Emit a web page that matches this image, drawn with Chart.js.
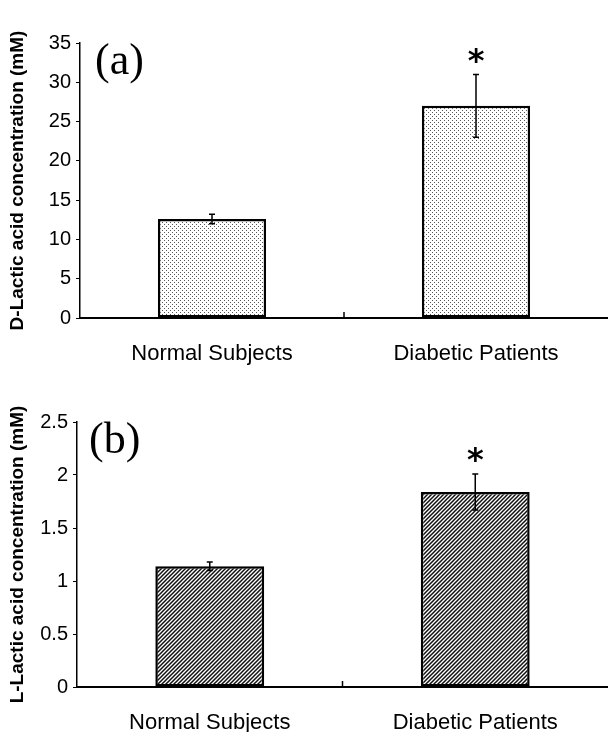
<!DOCTYPE html>
<html lang="en">
<head>
<meta charset="UTF-8" />
<script src="https://cdn.jsdelivr.net/npm/chart.js@4"></script>
<title>Lactic acid</title>
<style>
  body { margin: 0; background: #fff; }
  canvas { display: block; }
</style>
</head>
<body>
<canvas id="chartA" width="608" height="366"></canvas>
<canvas id="chartB" width="608" height="366"></canvas>
<script>
  const categories = ["Normal Subjects", "Diabetic Patients"];
  const dLactic = [12.6, 27.0];
  const dLacticErr = [0.6, 4.0];
  const lLactic = [1.14, 1.84];
  const lLacticErr = [0.04, 0.17];
  const sigMarks = ["", "*"];

  Chart.defaults.font.family = "'Liberation Sans', Arial, sans-serif";
  Chart.defaults.color = "#000";

  function dotPattern() {
    const c = document.createElement("canvas");
    c.width = 4; c.height = 4;
    const g = c.getContext("2d");
    g.fillStyle = "#fff";
    g.fillRect(0, 0, 4, 4);
    g.fillStyle = "#555";
    g.fillRect(0, 0, 1, 1);
    g.fillRect(2, 2, 1, 1);
    return g.createPattern(c, "repeat");
  }

  function hatchPattern() {
    const c = document.createElement("canvas");
    c.width = 4; c.height = 4;
    const g = c.getContext("2d");
    g.fillStyle = "#fff";
    g.fillRect(0, 0, 4, 4);
    g.strokeStyle = "#111";
    g.lineWidth = 1.5;
    g.beginPath();
    g.moveTo(-1, 5); g.lineTo(5, -1);
    g.moveTo(-1, 1); g.lineTo(1, -1);
    g.moveTo(3, 5); g.lineTo(5, 3);
    g.stroke();
    return g.createPattern(c, "repeat");
  }

  // error bars, significance star, panel letter, middle x tick
  const extras = {
    id: "extras",
    afterDatasetsDraw(chart, args, opts) {
      const ctx = chart.ctx;
      const meta = chart.getDatasetMeta(0);
      const y = chart.scales.y;
      const x = chart.scales.x;
      const vals = chart.data.datasets[0].data;
      ctx.save();
      ctx.strokeStyle = "#000";
      ctx.lineWidth = 1.5;
      meta.data.forEach((bar, i) => {
        const top = y.getPixelForValue(vals[i] + opts.errs[i]);
        const bot = y.getPixelForValue(vals[i] - opts.errs[i]);
        ctx.beginPath();
        ctx.moveTo(bar.x, top); ctx.lineTo(bar.x, bot);
        ctx.moveTo(bar.x - 3, top); ctx.lineTo(bar.x + 3, top);
        ctx.moveTo(bar.x - 3, bot); ctx.lineTo(bar.x + 3, bot);
        ctx.stroke();
        if (sigMarks[i]) {
          ctx.font = "bold 32px 'DejaVu Sans'";
          ctx.fillStyle = "#000";
          ctx.textAlign = "center";
          const m = ctx.measureText(sigMarks[i]);
          const cy = top - 19;
          const base = cy + (m.actualBoundingBoxAscent - m.actualBoundingBoxDescent) / 2;
          ctx.fillText(sigMarks[i], bar.x, base);
        }
      });
      // small tick between categories
      const mid = (x.getPixelForValue(0) + x.getPixelForValue(1)) / 2;
      ctx.beginPath();
      ctx.moveTo(mid, chart.chartArea.bottom);
      ctx.lineTo(mid, chart.chartArea.bottom - 6);
      ctx.stroke();
      // panel letter
      ctx.font = "44px 'Liberation Serif', 'Times New Roman', serif";
      ctx.fillStyle = "#000";
      ctx.textAlign = "left";
      ctx.fillText(opts.letter, chart.chartArea.left + opts.letterDx, chart.chartArea.top + 31);
      ctx.restore();
    }
  };

  function makeChart(id, values, errs, fill, yMax, yStep, yTitle, letter, geo) {
    new Chart(document.getElementById(id), {
      type: "bar",
      data: {
        labels: categories,
        datasets: [{
          data: values,
          backgroundColor: fill,
          borderColor: "#000",
          borderWidth: 2.5,
          borderSkipped: false,
          categoryPercentage: 1,
          barPercentage: 0.41
        }]
      },
      options: {
        responsive: false,
        animation: false,
        devicePixelRatio: 1,
        layout: { padding: { top: geo.top, right: 0, left: 0, bottom: 0 } },
        plugins: {
          legend: { display: false },
          tooltip: { enabled: false },
          extras: { errs: errs, letter: letter, letterDx: geo.letterDx }
        },
        scales: {
          x: {
            grid: { display: false },
            border: { display: true, color: "#000", width: 2 },
            ticks: { font: { size: 22 }, padding: 15, color: "#000" },
            afterFit: s => { s.height = geo.xh; }
          },
          y: {
            min: 0,
            max: yMax,
            grid: { drawOnChartArea: false, tickLength: 4, color: "#000" },
            border: { display: true, color: "#000", width: 1.5 },
            ticks: {
              stepSize: yStep,
              font: { size: 20 },
              padding: 5,
              color: "#000",
              callback: v => String(v)
            },
            title: {
              display: true,
              text: yTitle,
              font: { size: 19, weight: "bold" },
              padding: { top: 6, bottom: 0 },
              color: "#000"
            },
            afterFit: s => { s.width = geo.yw; }
          }
        }
      },
      plugins: [extras]
    });
  }

  makeChart("chartA", dLactic, dLacticErr, dotPattern(), 35, 5,
    "D-Lactic acid concentration (mM)", "(a)",
    { top: 43, xh: 48, yw: 80, letterDx: 15 });
  makeChart("chartB", lLactic, lLacticErr, hatchPattern(), 2.5, 0.5,
    "L-Lactic acid concentration (mM)", "(b)",
    { top: 56, xh: 45, yw: 77, letterDx: 12 });
</script>
</body>
</html>
